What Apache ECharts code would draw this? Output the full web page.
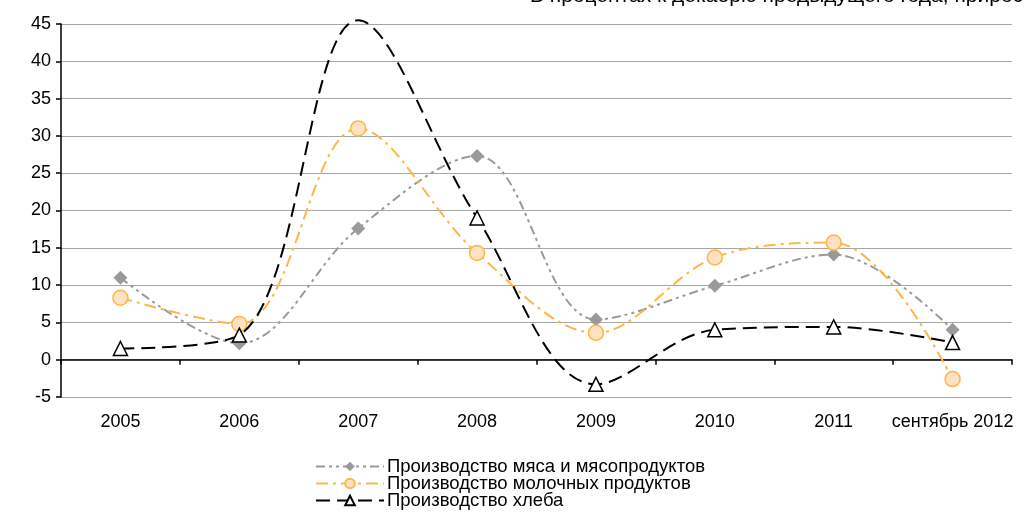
<!DOCTYPE html>
<html>
<head>
<meta charset="utf-8">
<script src="https://cdn.jsdelivr.net/npm/echarts@6/dist/echarts.min.js"></script>
<style>
  html, body { margin: 0; padding: 0; background: #fff; }
  #chart { width: 1025px; height: 514px; }
</style>
</head>
<body>
<div id="chart"></div>
<script>
const categories = ['2005', '2006', '2007', '2008', '2009', '2010', '2011', 'сентябрь 2012']
const meat = [11.0, 2.2, 17.6, 27.3, 5.4, 9.9, 14.1, 4.0]
const dairy = [8.3, 4.8, 31.0, 14.3, 3.6, 13.7, 15.7, -2.6]
const bread = [1.5, 3.3, 45.5, 19.0, -3.3, 4.0, 4.4, 2.3]
const yTicks = { min: -5, max: 45, step: 5 }

const font = 'Liberation Sans, Arial, sans-serif'
const chart = echarts.init(document.getElementById('chart'))

chart.setOption({
  animation: false,
  textStyle: { fontFamily: font },
  grid: { left: 61, right: 13, top: 24, bottom: 117 },
  graphic: [{
    type: 'text', left: 530, top: -14,
    style: { text: 'В процентах к декабрю предыдущего года, прирост', font: '21px ' + font, fill: '#000' }
  }],
  legend: {
    orient: 'vertical',
    left: 310, top: 452, height: 62,
    itemWidth: 68, itemHeight: 12, itemGap: -2,
    textStyle: { fontSize: 18.5, lineHeight: 15, color: '#000', fontFamily: font, padding: [0, 0, 0, -2] },
    data: ['Производство мяса и мясопродуктов', 'Производство молочных продуктов', 'Производство хлеба']
  },
  xAxis: [
    {
      type: 'category', data: categories, boundaryGap: true,
      axisLine: { show: false, onZero: false },
      axisTick: { show: false },
      axisLabel: { color: '#000', fontSize: 18, margin: 16, interval: 0 }
    },
    {
      type: 'category', data: categories, boundaryGap: true, position: 'bottom',
      axisLine: { onZero: true, lineStyle: { color: '#000', width: 1.5 } },
      axisTick: { show: true, length: 5, inside: false, lineStyle: { color: '#000', width: 1.5 } },
      axisLabel: { show: false }
    }
  ],
  yAxis: {
    type: 'value', min: yTicks.min, max: yTicks.max, interval: yTicks.step,
    axisLine: { show: true, lineStyle: { color: '#000', width: 1.5 } },
    axisTick: { show: true, length: 5, lineStyle: { color: '#000', width: 1.5 } },
    axisLabel: { color: '#000', fontSize: 18, margin: 10 },
    splitLine: { lineStyle: { color: '#A6A6A6', width: 1.2 } }
  },
  series: [
    {
      name: 'Производство мяса и мясопродуктов', type: 'line', smooth: 0.35, data: meat,
      symbol: 'diamond', symbolSize: 14,
      itemStyle: { color: '#9A9A9A' },
      lineStyle: { color: '#9A9A9A', width: 2, type: [9, 4, 3, 4, 3, 4] },
      z: 2
    },
    {
      name: 'Производство молочных продуктов', type: 'line', smooth: 0.35, data: dairy,
      symbol: 'circle', symbolSize: 15,
      itemStyle: { color: '#FFE2C2', borderColor: '#FFB547', borderWidth: 1.5 },
      lineStyle: { color: '#FFB547', width: 2, type: [12, 5, 3, 5] },
      z: 3
    },
    {
      name: 'Производство хлеба', type: 'line', smooth: 0.35, clip: false,
      data: bread.map((v, i) => i === 2 ? { value: v, symbol: 'none' } : v),
      symbol: 'triangle', symbolSize: 14,
      itemStyle: { color: '#fff', borderColor: '#000', borderWidth: 1.5 },
      lineStyle: { color: '#000', width: 2, type: [14, 7] },
      z: 4
    }
  ]
})
</script>
</body>
</html>
